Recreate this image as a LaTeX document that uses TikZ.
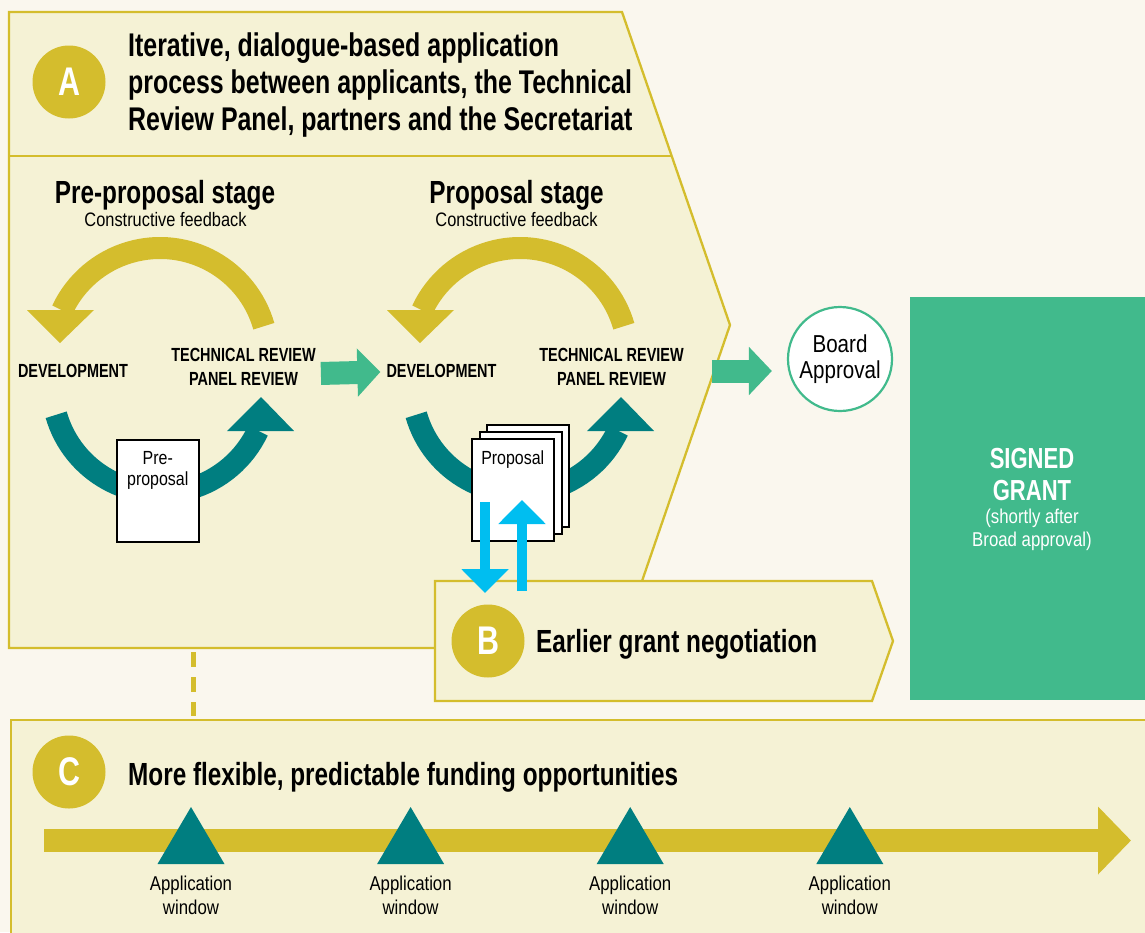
\documentclass[tikz,border=0pt]{standalone}
\usepackage{fontspec}
\setmainfont{Liberation Sans}[FakeStretch=0.84]
\newfontfamily\headfont{Liberation Sans}[FakeStretch=0.76]
\usetikzlibrary{arrows.meta,positioning}

\definecolor{cream}{HTML}{FAF7EE}
\definecolor{panel}{HTML}{F5F2D5}
\definecolor{gold}{HTML}{D4BD2D}
\definecolor{tealc}{HTML}{007E80}
\definecolor{grn}{HTML}{41BA8C}
\definecolor{sky}{HTML}{00BEF0}

\begin{document}
\begin{tikzpicture}[x=1pt, y=-1pt, every node/.style={inner sep=0pt, text=black},
    head/.style={font=\headfont\bfseries\fontsize{32}{37}\selectfont, align=left},
    caps/.style={font=\headfont\bfseries\fontsize{19}{24}\selectfont, align=center},
    small/.style={font=\fontsize{19.5}{23.5}\selectfont, align=center},
    badge/.style={circle, fill=gold, minimum size=73pt, text=white,
        font=\headfont\bfseries\fontsize{40}{40}\selectfont},
    sheet/.style={draw=black, line width=1.5pt, fill=white, minimum width=82pt, minimum height=102pt},
    rim/.style={draw=gold, line width=2.3pt},
    band/.style={line width=22pt},
    grnarrow/.style={line width=23pt, grn, -{Triangle[length=23pt, width=47pt]}},
    skyarrow/.style={line width=10.5pt, sky, -{Triangle[length=24pt, width=46pt]}}]

    \fill[cream] (0,0) rectangle (1145,932);
    \useasboundingbox (0,0) rectangle (1145,932);

    % panels
    \filldraw[fill=panel, rim] (9,12) -- (622,12) -- (730,325) -- (619,648) -- (9,648) -- cycle;
    \draw[rim] (9,156) -- (672,156);
    \fill[panel] (11,720) rectangle (1150,940);
    \draw[rim] (11,940) -- (11,720) -- (1150,720);
    \draw[gold, line width=5pt, dash pattern=on 15pt off 10pt] (193,652) -- (193,716);
    \filldraw[fill=panel, rim] (435,581) -- (872,581) -- (893,641) -- (872,701) -- (435,701) -- cycle;
    \node[fill=grn, minimum width=244pt, minimum height=403pt, anchor=north west] (grant) at (910,297) {};

    % feedback loops
    \foreach \dx in {0,360}{
        \draw[gold, band] (160+\dx,356) ++(-16:108) arc (-16:-155:108);
        \fill[gold] (27+\dx,310) -- (94+\dx,310) -- (60+\dx,343) -- cycle;
        \draw[tealc, band] (160+\dx,385) ++(164:108) arc (164:25:108);
        \fill[tealc] (227+\dx,431) -- (294+\dx,431) -- (261+\dx,397) -- cycle;
    }

    % documents
    \node[sheet, anchor=north west] (doc1) at (116,439) {};
    \node[small, font=\fontsize{19}{21}\selectfont, below=12pt of doc1.north] (doctext1) {Pre-\\proposal};
    \node[sheet, anchor=north west] (back) at (486,424) {};
    \node[sheet, anchor=north west] (mid) at (479,431) {};
    \node[sheet, anchor=north west] (prop) at (471,438) {};
    \node[small, font=\fontsize{19}{21}\selectfont, below=13pt of prop.north] (proptext) {Proposal};

    % titles
    \node[badge] (A) at (69,82) {A};
    \node[head, font=\headfont\bfseries\fontsize{32.8}{37}\selectfont, anchor=west] (titleA) at (128,85)
        {Iterative, dialogue-based application\\process between applicants, the Technical\\Review Panel, partners and the Secretariat};
    \node[head, anchor=base] (stage1) at (165,203) {Pre-proposal stage};
    \node[small, anchor=base] (fb1) at (165.5,226) {Constructive feedback};
    \node[head, anchor=base] (stage2) at (516.5,203) {Proposal stage};
    \node[small, anchor=base] (fb2) at (516.5,226) {Constructive feedback};

    \node[caps, anchor=base] (dev1) at (73,377) {DEVELOPMENT};
    \node[caps] (trp1) at (243.5,367) {TECHNICAL REVIEW\\PANEL REVIEW};
    \node[caps, anchor=base] (dev2) at (441.5,377) {DEVELOPMENT};
    \node[caps] (trp2) at (611.5,367) {TECHNICAL REVIEW\\PANEL REVIEW};

    \node[circle, draw=grn, line width=2.2pt, fill=white, minimum size=104pt, align=center,
        font=\fontsize{24.5}{25.5}\selectfont] (board) at (840,359) {Board\\Approval};
    \node[align=center, text=white, font=\headfont\bfseries\fontsize{29}{32}\selectfont] (signed)
        at (1032,475) {SIGNED\\GRANT};
    \node[align=center, text=white, font=\fontsize{20}{23.5}\selectfont, below=7pt of signed] (shortly)
        {(shortly after\\Broad approval)};

    % flow arrows
    \draw[grnarrow] (trp1.east |- dev2) ++(5,3) -- ([xshift=-6pt, yshift=-1.5pt]dev2.west);
    \draw[grnarrow] (trp2.east |- board.west) ++(28,12) -- ([xshift=-15pt, yshift=-12pt]board.west);

    \coordinate (dn1) at (485,502);
    \coordinate (dn2) at (485,593);
    \coordinate (up1) at (522,591);
    \coordinate (up2) at (522,500);
    \draw[skyarrow] (dn1) -- (dn2);
    \draw[skyarrow] (up1) -- (up2);

    \node[badge] (B) at (488,641) {B};
    \node[head, anchor=base west] (titleB) at (536,652) {Earlier grant negotiation};

    % timeline
    \node[badge] (C) at (69,772) {C};
    \node[head, anchor=base west] (titleC) at (128,785) {More flexible, predictable funding opportunities};
    \coordinate (tstart) at (44,840.5);
    \coordinate (tend) at (1131,840.5);
    \draw[gold, line width=23pt, -{Triangle[length=33pt, width=66pt]}] (tstart) -- (tend);
    \foreach \i in {0,...,3}{
        \pgfmathsetmacro{\wx}{191+219.6*\i}
        \fill[tealc] (\wx,807) -- (\wx+33.5,864) -- (\wx-33.5,864) -- cycle;
        \node[small, font=\fontsize{20}{24}\selectfont, anchor=north] (win\i) at (\wx,876) {Application\\window};
    }
\end{tikzpicture}
\end{document}
